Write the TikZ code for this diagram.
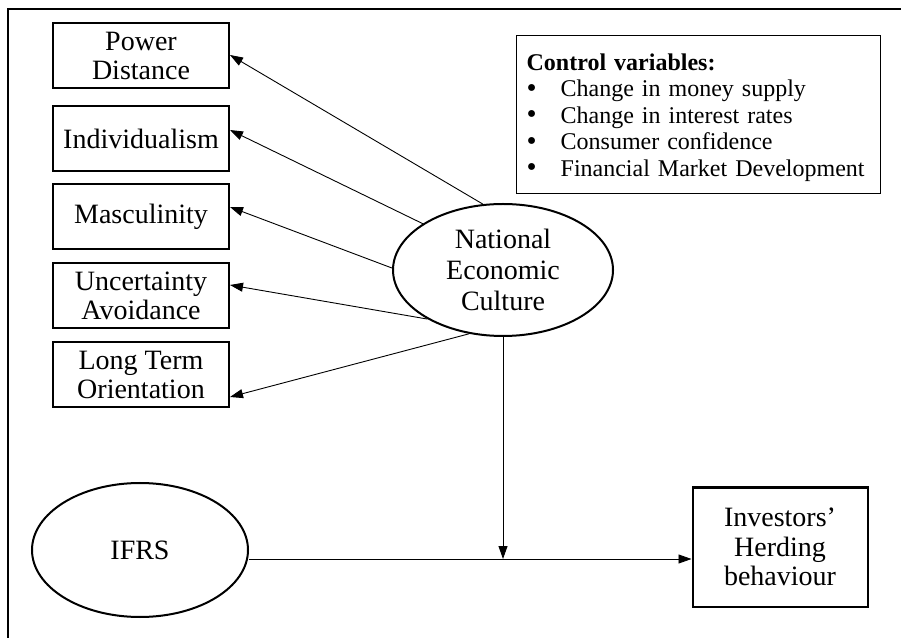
\documentclass[tikz,border=0pt]{standalone}
\usepackage{fontspec}
\setmainfont{Liberation Serif}
\usetikzlibrary{arrows.meta,shapes.geometric}

\newcommand{\itm}{\makebox[34pt][l]{\raisebox{-0.5pt}{\scalebox{1.2}{\textbullet}}}}

\tikzset{
	var/.style={draw, line width=2pt, minimum width=176pt, minimum height=65pt, inner sep=0pt, align=center, font=\fontsize{28}{29.5}\selectfont},
	latent/.style={draw, ellipse, line width=2pt, inner sep=0pt, align=center, font=\fontsize{28}{31}\selectfont},
	ctrlbox/.style={draw, line width=1.3pt, text width=344pt, inner xsep=10pt, inner ysep=0pt, minimum height=158pt, align=left, font=\fontsize{24}{26.5}\selectfont},
	link/.style={line width=0.9pt, -{Triangle[length=13pt,width=9pt]}}
}

\begin{document}
\begin{tikzpicture}[x=1pt,y=1pt]
			\useasboundingbox (0,0) rectangle (901,637);
			\clip (0,0) rectangle (901,637);
			\draw[line width=2.5pt] (8,-20) rectangle (920,628);
			\node[latent, minimum width=220pt, minimum height=132pt] (nec) at (503,367) {National\\Economic\\Culture};
			\foreach \nm/\txt/\y/\ang/\dy in {pd/{Power\\Distance}/581/107/1, ind/Individualism/498/150/9, masc/Masculinity/420/179/10, ua/{Uncertainty\\Avoidance}/341/213/11, lto/{Long Term\\Orientation}/262/242/-22} {
				\node[var] (\nm) at (141,\y) {\txt};
				\draw[link] (nec.\ang) -- ([yshift=\dy pt]\nm.east);
			}
			\node[ctrlbox, anchor=north west] (ctrl) at (516,602) {\rule{0pt}{22pt}\textbf{Control variables:}\\
				\itm Change in money supply\\
				\itm Change in interest rates\\
				\itm Consumer confidence\\
				\itm Financial Market Development};
			\node[latent, minimum width=216pt, minimum height=134pt] (ifrs) at (140,87) {IFRS};
			\node[var, minimum width=175pt, minimum height=119pt] (ihb) at (780,90) {Investors’\\Herding\\behaviour};
			\coordinate (mod) at (nec.south |- 0,78);
			\draw[link] (nec.south) -- (mod);
			\draw[link] (ifrs.east |- mod) -- (ihb.west |- mod);
		\end{tikzpicture}
\end{document}
